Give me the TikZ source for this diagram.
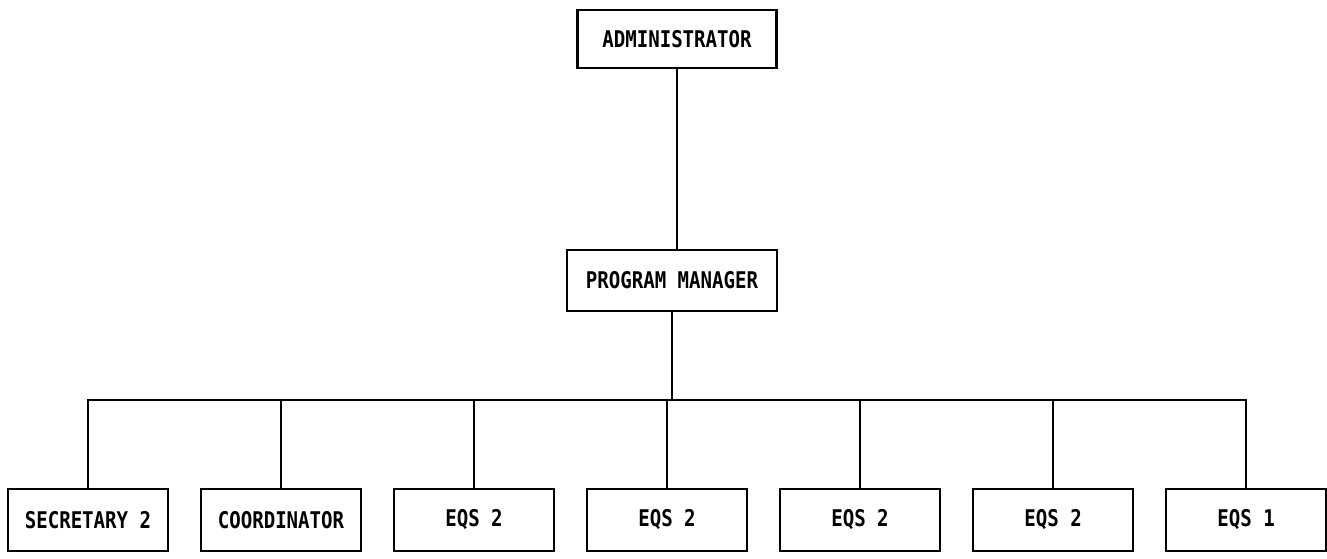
\documentclass[tikz,border=0pt]{standalone}
\usepackage{fontspec}
\newfontfamily\chartfont[FakeStretch=0.83]{DejaVu Sans Mono}
\usetikzlibrary{positioning}

\begin{document}
\begin{tikzpicture}[x=1pt,y=-1pt,-,line width=2.5pt,
                    main node/.style={rectangle,draw,minimum width=160pt,minimum height=62pt,
                      inner sep=0pt,font=\chartfont\bfseries\fontsize{23}{26}\selectfont}]
  \useasboundingbox (0,0) rectangle (1327,559);

  \node[main node,minimum width=199pt,minimum height=58pt] (1) at (677,39) {ADMINISTRATOR};
  \node[main node,minimum width=210pt,minimum height=61pt] (2) at (672,280.5) {PROGRAM MANAGER};
  \node[main node] (3) at (88,520) {SECRETARY 2};
  \node[main node] (4) [right=30.5pt of 3] {COORDINATOR};
  \node[main node] (5) [right=30.5pt of 4] {EQS 2};
  \node[main node] (6) [right=30.5pt of 5] {EQS 2};
  \node[main node] (7) [right=30.5pt of 6] {EQS 2};
  \node[main node] (8) [right=30.5pt of 7] {EQS 2};
  \node[main node] (9) [right=30.5pt of 8] {EQS 1};
  \coordinate (bus) at (672,400);

  \draw (1) -- (1 |- 2.north);
  \draw (2) -- (bus);
  \draw (bus) -| (3) (bus) -| (4) (bus) -| (5) (bus) -| (6)
        (bus) -| (7) (bus) -| (8) (bus) -| (9);
\end{tikzpicture}
\end{document}
